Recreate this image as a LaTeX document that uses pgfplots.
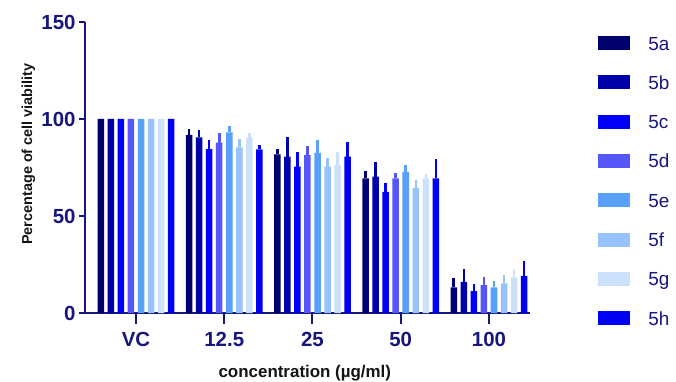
\documentclass[border=0pt]{standalone}
\usepackage{pgfplots}
\pgfplotsset{compat=1.18}
\usepackage{fontspec}
\setmainfont{Liberation Sans}
\definecolor{ax}{RGB}{22,22,125}
\definecolor{lbl}{RGB}{20,20,20}
\definecolor{c5a}{RGB}{0,0,112}
\definecolor{c5b}{RGB}{0,0,170}
\definecolor{c5c}{RGB}{0,0,250}
\definecolor{c5d}{RGB}{85,85,250}
\definecolor{c5e}{RGB}{88,160,252}
\definecolor{c5f}{RGB}{152,194,252}
\definecolor{c5g}{RGB}{204,224,250}
\definecolor{c5h}{RGB}{0,0,245}
\pgfplotsset{mybar/.style={fill=#1, draw=none,
  legend image code/.code={\fill[fill=#1] (0bp,-7bp) rectangle (32bp,7bp);},
  error bars/error bar style={draw=#1, line width=2.6bp}}}
\begin{document}
\begin{tikzpicture}
\path[use as bounding box] (-85bp,-69bp) rectangle (591bp,313bp);
\begin{axis}[
  at={(0,0)}, anchor=south west, scale only axis,
  width=445bp, height=291bp,
  ybar, bar width=0.074,
  ymin=0, ymax=150, xmin=-0.578, xmax=4.465,
  axis x line*=bottom, axis y line*=left,
  axis line style={ax, line width=2bp, -},
  ytick={0,50,100,150}, xtick={0,1,2,3,4}, xticklabels={VC,12.5,25,50,100},
  tick align=outside,
  major tick length=6bp,
  tick style={ax, line width=2bp},
  xtick style={/pgfplots/major tick length=11bp},
  tick label style={font=\bfseries\fontsize{20.5}{20.5}\selectfont, text=ax},
  xticklabel style={yshift=-10bp},
  /pgf/number format/assume math mode=true,
  xlabel={concentration (µg/ml)},
  ylabel={Percentage of cell viability},
  xlabel style={font=\bfseries\fontsize{17}{17}\selectfont, text=lbl, at={(axis description cs:0.494,-0.207)}, anchor=center},
  ylabel style={font=\bfseries\fontsize{14.5}{14.5}\selectfont, text=lbl, at={(axis description cs:-0.127,0.546)}, anchor=center},
  error bars/y dir=plus, error bars/y explicit, error bars/error mark=none,
  legend style={at={(axis description cs:1.153,0.455)}, anchor=west, draw=none, fill=none,
    inner sep=0pt, row sep=25.3bp, column sep=18bp,
    font=\fontsize{19}{19}\selectfont, text=ax,
    nodes={inner sep=0pt, text height=14bp, text depth=0bp}},
  legend cell align=left,
]
\addplot[mybar=c5a, bar shift=-0.399] coordinates {(0,100) +- (0,0) (1,91.8) +- (0,2.9) (2,81.8) +- (0,2.6) (3,69.4) +- (0,4.0) (4,13.2) +- (0,4.7)};
\addplot[mybar=c5b, bar shift=-0.285] coordinates {(0,100) +- (0,0) (1,90.5) +- (0,3.8) (2,80.6) +- (0,10.3) (3,70.3) +- (0,7.5) (4,16.1) +- (0,6.4)};
\addplot[mybar=c5c, bar shift=-0.171] coordinates {(0,100) +- (0,0) (1,84.5) +- (0,4.7) (2,75.4) +- (0,7.4) (3,62.5) +- (0,4.4) (4,11.3) +- (0,3.6)};
\addplot[mybar=c5d, bar shift=-0.057] coordinates {(0,100) +- (0,0) (1,87.8) +- (0,4.8) (2,81.4) +- (0,4.8) (3,69.4) +- (0,2.9) (4,14.4) +- (0,4.3)};
\addplot[mybar=c5e, bar shift=0.057] coordinates {(0,100) +- (0,0) (1,93.1) +- (0,3.3) (2,82.6) +- (0,6.6) (3,72.8) +- (0,3.5) (4,13.2) +- (0,3.3)};
\addplot[mybar=c5f, bar shift=0.171] coordinates {(0,100) +- (0,0) (1,85.4) +- (0,4.3) (2,75.4) +- (0,4.6) (3,64.5) +- (0,4.1) (4,15.3) +- (0,4.3)};
\addplot[mybar=c5g, bar shift=0.285] coordinates {(0,100) +- (0,0) (1,90.4) +- (0,2.5) (2,76.3) +- (0,6.5) (3,69.4) +- (0,2.2) (4,18.4) +- (0,4.1)};
\addplot[mybar=c5h, bar shift=0.399] coordinates {(0,100) +- (0,0) (1,84.4) +- (0,2.2) (2,80.6) +- (0,7.7) (3,69.4) +- (0,9.8) (4,19.2) +- (0,7.8)};
\legend{5a,5b,5c,5d,5e,5f,5g,5h}
\end{axis}
\end{tikzpicture}
\end{document}
